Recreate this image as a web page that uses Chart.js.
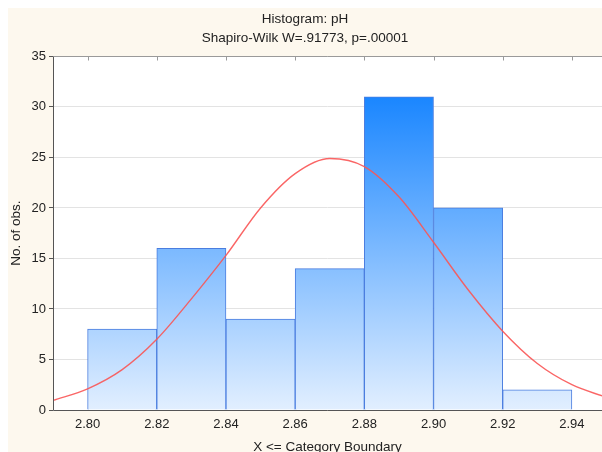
<!DOCTYPE html>
<html>
<head>
<meta charset="utf-8">
<title>Histogram: pH</title>
<style>
  html, body { margin: 0; padding: 0; overflow: hidden; background: #ffffff; }
  #wrap { width: 612px; height: 470px; }
  canvas { display: block; }
</style>
<script src="https://cdn.jsdelivr.net/npm/chart.js@4/dist/chart.umd.min.js"></script>
</head>
<body>
<div id="wrap"><canvas id="chart" width="612" height="470"></canvas></div>
<script>
// Histogram bins (upper category boundaries) and observation counts
const binUpper = [2.82, 2.84, 2.86, 2.88, 2.90, 2.92, 2.94];
const binWidth = 0.02;
const binCounts = [8, 16, 9, 14, 31, 20, 2];

// Expected normal curve, sampled every 0.01 pH
const curveX = [2.79, 2.80, 2.81, 2.82, 2.83, 2.84, 2.85, 2.86, 2.87, 2.88, 2.89, 2.90, 2.91, 2.92, 2.93, 2.94, 2.95];
const curveY = [0.95, 2.1, 4.0, 7.0, 11.0, 15.3, 20.0, 23.4, 24.9, 24.1, 21.1, 16.6, 11.9, 7.8, 4.6, 2.5, 1.25];

// Axis tick labels
const xTicks = [2.80, 2.82, 2.84, 2.86, 2.88, 2.90, 2.92, 2.94];
const yTicks = [0, 5, 10, 15, 20, 25, 30, 35];

const titleText = 'Histogram: pH';
const subtitleText = 'Shapiro-Wilk W=.91773, p=.00001';
const xTitle = 'X <= Category Boundary';
const yTitle = 'No. of obs.';

const FONT = "'Liberation Sans', Arial, Helvetica, sans-serif";
const TEXT = '#222222';

const barPoints = binUpper.map((u, i) => ({ x: u - binWidth / 2, y: binCounts[i] }));
const curvePoints = curveX.map((x, i) => ({ x: x, y: curveY[i] }));

let barGradient = null;
function barFill(context) {
  const chart = context.chart;
  const area = chart.chartArea;
  if (!area) return '#7ab8ff';
  if (!barGradient) {
    const yScale = chart.scales.y;
    const top = yScale.getPixelForValue(Math.max(...binCounts));
    const g = chart.ctx.createLinearGradient(0, top, 0, area.bottom);
    g.addColorStop(0, 'rgb(26,134,255)');
    g.addColorStop(1, 'rgb(226,239,255)');
    barGradient = g;
  }
  return barGradient;
}

// Panel background, white plot area and the plot frame
const framePlugin = {
  id: 'frame',
  beforeDraw(chart) {
    const { ctx, chartArea: a, width, height } = chart;
    ctx.save();
    ctx.fillStyle = '#ffffff';
    ctx.fillRect(0, 0, width, height);
    ctx.fillStyle = '#fdf8ee';
    ctx.fillRect(8, 8, width - 8, height - 8);
    ctx.fillStyle = '#ffffff';
    ctx.fillRect(a.left, a.top, a.right - a.left, a.bottom - a.top);
    ctx.restore();
  },
  afterDatasetsDraw(chart) {
    const { ctx, chartArea: a } = chart;
    const x = chart.scales.x;
    const L = Math.round(a.left) + 0.5;
    const T = Math.round(a.top) + 0.5;
    const B = Math.round(a.bottom) + 0.5;
    ctx.save();
    ctx.lineWidth = 1;
    // top edge with inward tick marks
    ctx.strokeStyle = '#9a9a9a';
    ctx.beginPath();
    ctx.moveTo(L, T);
    ctx.lineTo(a.right, T);
    x.ticks.forEach(t => {
      const px = Math.round(x.getPixelForValue(t.value)) + 0.5;
      ctx.moveTo(px, T);
      ctx.lineTo(px, T + 4);
    });
    ctx.stroke();
    // left and bottom axis lines
    ctx.strokeStyle = '#555555';
    ctx.beginPath();
    ctx.moveTo(L, T);
    ctx.lineTo(L, B);
    ctx.lineTo(a.right, B);
    ctx.stroke();
    ctx.restore();
  }
};

new Chart(document.getElementById('chart'), {
  type: 'scatter',
  data: {
    datasets: [
      {
        type: 'line',
        label: 'Normal',
        data: curvePoints,
        borderColor: 'rgba(250,85,85,0.9)',
        borderWidth: 1.4,
        pointRadius: 0,
        cubicInterpolationMode: 'monotone',
        fill: false,
        order: 0
      },
      {
        type: 'bar',
        label: 'pH',
        data: barPoints,
        backgroundColor: barFill,
        borderColor: '#4a7ddf',
        borderWidth: 1,
        borderSkipped: 'bottom',
        barPercentage: 1,
        categoryPercentage: 1,
        order: 1
      }
    ]
  },
  options: {
    responsive: false,
    animation: false,
    layout: { padding: { left: 8, right: 10, top: 0, bottom: 0 } },
    scales: {
      x: {
        type: 'linear',
        min: 2.79,
        max: 2.9487,
        offset: false,
        grid: { display: false, drawTicks: false },
        border: { display: false },
        afterBuildTicks(scale) { scale.ticks = xTicks.map(v => ({ value: v })); },
        ticks: {
          autoSkip: false,
          maxRotation: 0,
          padding: 7,
          color: TEXT,
          font: { family: FONT, size: 13 },
          callback: v => Number(v).toFixed(2)
        },
        title: {
          display: true,
          text: xTitle,
          color: TEXT,
          font: { family: FONT, size: 13.5 },
          padding: { top: 0, bottom: 15 }
        },
        afterFit(scale) { scale.height = 60; }
      },
      y: {
        min: 0,
        max: 35,
        afterBuildTicks(scale) { scale.ticks = yTicks.map(v => ({ value: v })); },
        grid: { color: '#e3e3e3', tickColor: '#555555', tickLength: 4, drawTicks: true },
        border: { display: false },
        ticks: {
          padding: 3,
          color: TEXT,
          font: { family: FONT, size: 13 }
        },
        title: {
          display: true,
          text: yTitle,
          color: TEXT,
          font: { family: FONT, size: 13.5 },
          padding: 0
        },
        afterFit(scale) { scale.width = 45; }
      }
    },
    plugins: {
      legend: { display: false },
      tooltip: { enabled: false },
      title: {
        display: true,
        text: titleText,
        color: TEXT,
        font: { family: FONT, size: 13.5, weight: 'normal' },
        padding: { top: 11, bottom: 3 }
      },
      subtitle: {
        display: true,
        text: subtitleText,
        color: TEXT,
        font: { family: FONT, size: 13.5, weight: 'normal' },
        padding: { top: 0, bottom: 10 }
      }
    }
  },
  plugins: [framePlugin]
});
</script>
</body>
</html>
